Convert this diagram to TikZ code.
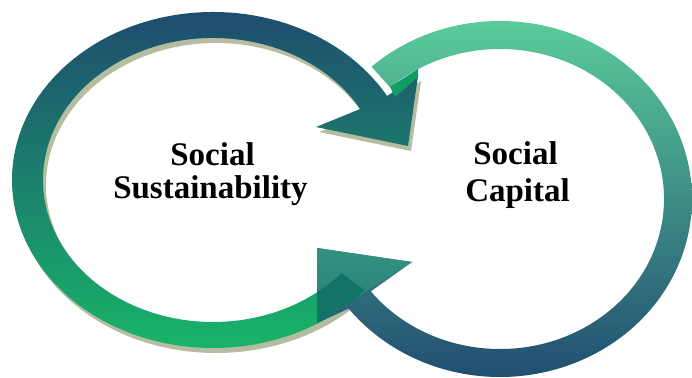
\documentclass[tikz,border=0pt]{standalone}
\usepackage{fontspec}
\setmainfont{Liberation Serif}
\usetikzlibrary{calc}

\definecolor{ringblue}{RGB}{31,74,111}
\definecolor{ringgreen}{RGB}{24,186,105}
\definecolor{ringlight}{RGB}{93,210,156}
\definecolor{ringmid}{RGB}{44,148,128}
\definecolor{shadowolive}{RGB}{181,189,160}
\definecolor{headteal}{RGB}{50,146,128}
\definecolor{headtealdark}{RGB}{40,126,120}
\definecolor{overlapteal}{RGB}{18,115,104}
\definecolor{tailgreen}{RGB}{15,157,99}

\begin{document}
\begin{tikzpicture}[x=1pt,y=1pt,
  labeltext/.style={font=\bfseries\fontsize{33}{33}\selectfont, anchor=base, inner sep=0pt}]
\useasboundingbox (0,0) rectangle (692,377);
\fill[white] (0,0) rectangle (692,377);

% ring centres
\coordinate (C1) at (213,197);
\coordinate (C2) at (500,178);
% head of the left (clockwise, top) arrow
\coordinate (lbarbR) at (418,301);
\coordinate (ltip)   at (408,231);
\coordinate (lbarbL) at (316,250);
% head of the right (clockwise, bottom) arrow
\coordinate (rtip)   at (317,129);
\coordinate (rbarbR) at (412,115);
\coordinate (rbarbL) at (317,54);

\def\leftpath{($(C1)+(-41:201 and 168)$)
  arc[start angle=-41,end angle=-330,x radius=201,y radius=168]
  -- (lbarbR) -- (ltip) -- (lbarbL)
  -- ($(C1)+(30:170 and 142)$)
  arc[start angle=30,end angle=319,x radius=170,y radius=142] -- cycle}

\def\rightpath{($(C2)+(132:192 and 178)$)
  arc[start angle=132,end angle=-142,x radius=192,y radius=178]
  -- (rbarbL) -- (rtip) -- (rbarbR)
  -- ($(C2)+(-142:164 and 150)$)
  arc[start angle=-142,end angle=132,x radius=164,y radius=150] -- cycle}

% drop shadow of the left arrow
\begin{scope}[transform canvas={xshift=3pt,yshift=-5pt}]
  \fill[shadowolive] \leftpath;
\end{scope}

% left arrow: green at the bottom, dark blue at the top
\shade[top color=ringblue, bottom color=ringgreen] \leftpath;

% right arrow: light green at the top, dark blue at the bottom
\shade[top color=ringlight, middle color=ringmid, bottom color=ringblue] \rightpath;

% lighter arrowhead of the right arrow
\shade[top color=headteal, bottom color=headtealdark] (rtip) -- (rbarbR) -- (rbarbL) -- cycle;

% where that arrowhead lies over the tail of the left arrow
\begin{scope}
  \clip (rtip) -- (rbarbR) -- (rbarbL) -- cycle;
  \fill[overlapteal] \leftpath;
\end{scope}

% dark edge under the tail of the right arrow
\fill[tailgreen] (390,290) -- (418,308) -- (418,300) -- (395,280) -- cycle;

% labels
\node[labeltext] (ss1) at (212.5,211) {Social};
\node[labeltext] (ss2) at (210.5,178) {Sustainability};
\node[labeltext] (sc1) at (515.5,212) {Social};
\node[labeltext] (sc2) at (517.5,175) {Capital};
\end{tikzpicture}
\end{document}
